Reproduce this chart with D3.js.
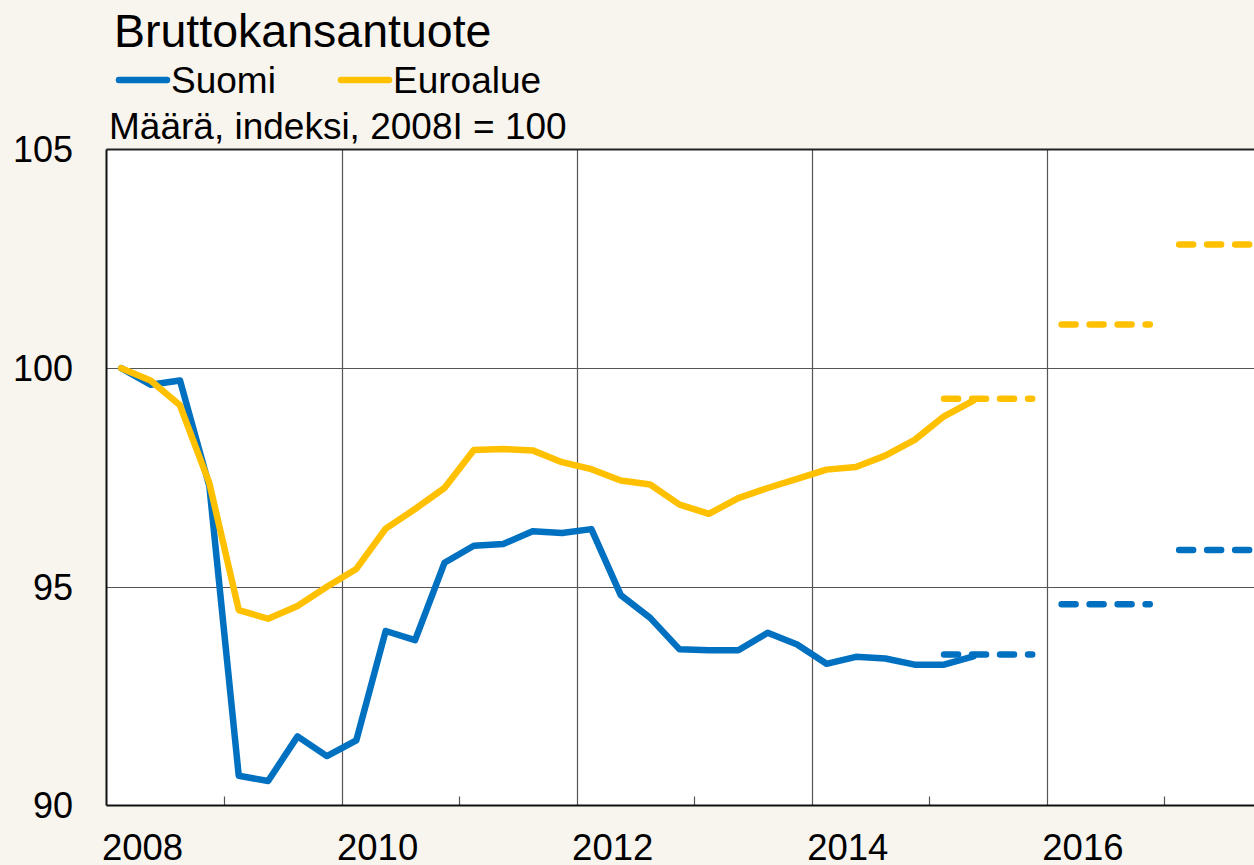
<!DOCTYPE html>
<html>
<head>
<meta charset="utf-8">
<script src="https://cdn.jsdelivr.net/npm/d3@7"></script>
<style>
    html, body { margin: 0; padding: 0; background: #f8f4ee; overflow: hidden; }
    text { font-family: "Liberation Sans", Arial, sans-serif; fill: #000; }
</style>
</head>
<body>
<script>
// quarters 2008I - 2015II
const quarters = d3.range(30).map(i => 2008 + Math.floor(i / 4) + ((i % 4) + 0.5) / 4);

const suomi = [100.0, 99.62, 99.72, 97.3, 90.68, 90.56, 91.58, 91.13,
    91.49, 93.99, 93.78, 95.55, 95.94, 95.98, 96.27, 96.23,
    96.32, 94.81, 94.29, 93.57, 93.55, 93.55, 93.95, 93.68,
    93.24, 93.40, 93.36, 93.22, 93.22, 93.41];

const euroalue = [100.0, 99.72, 99.15, 97.37, 94.47, 94.27, 94.56, 95.0,
    95.41, 96.33, 96.78, 97.26, 98.13, 98.15, 98.12, 97.85,
    97.69, 97.43, 97.34, 96.88, 96.67, 97.03, 97.26, 97.47,
    97.68, 97.74, 98.0, 98.36, 98.9, 99.26];

// annual forecasts (dashed)
const forecastYears = [2015, 2016, 2017];
const suomiForecast = [93.45, 94.6, 95.84];
const euroForecast = [99.3, 101.0, 102.83];

const yTicks = [90, 95, 100, 105];
const xLabels = [2008, 2010, 2012, 2014, 2016];
const minorYears = [2009, 2011, 2013, 2015, 2017];

const blue = "#0070c0", yellow = "#ffc000";

const width = 1254, height = 865;
const margin = {top: 149.5, bottom: 805.5, left: 106.5, right: 1282};

const svg = d3.select("body").append("svg")
    .attr("width", width)
    .attr("height", height);

const x = d3.scaleLinear().domain([2008, 2018]).range([margin.left, margin.right]);
const y = d3.scaleLinear().domain([90, 105]).range([margin.bottom, margin.top]);

// plot background
svg.append("rect")
    .attr("x", margin.left)
    .attr("y", margin.top)
    .attr("width", margin.right - margin.left)
    .attr("height", margin.bottom - margin.top)
    .attr("fill", "#fff");

// grid
svg.append("g").selectAll("line")
    .data([95, 100])
    .enter().append("line")
    .attr("x1", margin.left).attr("x2", margin.right)
    .attr("y1", d => Math.round(y(d)) + 0.5).attr("y2", d => Math.round(y(d)) + 0.5)
    .attr("stroke", "#555").attr("stroke-width", 1.2);

svg.append("g").selectAll("line")
    .data([2010, 2012, 2014, 2016, 2018])
    .enter().append("line")
    .attr("x1", d => Math.round(x(d)) + 0.5).attr("x2", d => Math.round(x(d)) + 0.5)
    .attr("y1", margin.top).attr("y2", margin.bottom)
    .attr("stroke", "#555").attr("stroke-width", 1.2);

// minor ticks on x axis
svg.append("g").selectAll("line")
    .data(minorYears)
    .enter().append("line")
    .attr("x1", d => Math.round(x(d)) + 0.5).attr("x2", d => Math.round(x(d)) + 0.5)
    .attr("y1", margin.bottom - 9).attr("y2", margin.bottom)
    .attr("stroke", "#555").attr("stroke-width", 1.2);

// frame
svg.append("line")
    .attr("x1", margin.left).attr("x2", margin.right)
    .attr("y1", margin.top).attr("y2", margin.top)
    .attr("stroke", "#222").attr("stroke-width", 2);
svg.append("line")
    .attr("x1", margin.left).attr("x2", margin.right)
    .attr("y1", margin.bottom).attr("y2", margin.bottom)
    .attr("stroke", "#111").attr("stroke-width", 2.2);
svg.append("line")
    .attr("x1", margin.left).attr("x2", margin.left)
    .attr("y1", margin.top).attr("y2", margin.bottom)
    .attr("stroke", "#111").attr("stroke-width", 2);

// y tick labels
svg.append("g").selectAll("text")
    .data(yTicks)
    .enter().append("text")
    .attr("x", 73)
    .attr("y", d => y(d))
    .attr("dy", "0.36em")
    .attr("text-anchor", "end")
    .style("font-size", "36px")
    .text(d => d);

// x tick labels (cut by the bottom edge, as in the original)
svg.append("g").selectAll("text")
    .data(xLabels)
    .enter().append("text")
    .attr("x", d => x(d) + 36)
    .attr("y", 860)
    .attr("text-anchor", "middle")
    .style("font-size", "36.5px")
    .text(d => d);

// lines
const line = d3.line()
    .x((d, i) => x(quarters[i]))
    .y(d => y(d));

[[suomi, blue], [euroalue, yellow]].forEach(function(s) {
    svg.append("path")
        .datum(s[0])
        .attr("d", line)
        .attr("fill", "none")
        .attr("stroke", s[1])
        .attr("stroke-width", 6.5)
        .attr("stroke-linejoin", "round")
        .attr("stroke-linecap", "round");
});

// forecast dashes
[[suomiForecast, blue], [euroForecast, yellow]].forEach(function(s) {
    svg.append("g").selectAll("line")
        .data(forecastYears)
        .enter().append("line")
        .attr("x1", d => x(d + 0.125))
        .attr("x2", d => x(d + 0.875))
        .attr("y1", (d, i) => y(s[0][i]))
        .attr("y2", (d, i) => y(s[0][i]))
        .attr("stroke", s[1])
        .attr("stroke-width", 6.5)
        .attr("stroke-linecap", "round")
        .attr("stroke-dasharray", "14,14");
});

// title, legend, subtitle
svg.append("text")
    .attr("x", 114).attr("y", 47)
    .style("font-size", "46.5px")
    .text("Bruttokansantuote");

const legend = [
    {name: "Suomi", color: blue, x: 119},
    {name: "Euroalue", color: yellow, x: 341}
];
const lg = svg.append("g").selectAll("g")
    .data(legend)
    .enter().append("g");
lg.append("line")
    .attr("x1", d => d.x).attr("x2", d => d.x + 48)
    .attr("y1", 80).attr("y2", 80)
    .attr("stroke", d => d.color)
    .attr("stroke-width", 6.5)
    .attr("stroke-linecap", "round");
lg.append("text")
    .attr("x", d => d.x + 52).attr("y", 93)
    .style("font-size", "37px")
    .text(d => d.name);

svg.append("text")
    .attr("x", 109).attr("y", 139)
    .style("font-size", "37px")
    .text("Määrä, indeksi, 2008I = 100");
</script>
</body>
</html>
